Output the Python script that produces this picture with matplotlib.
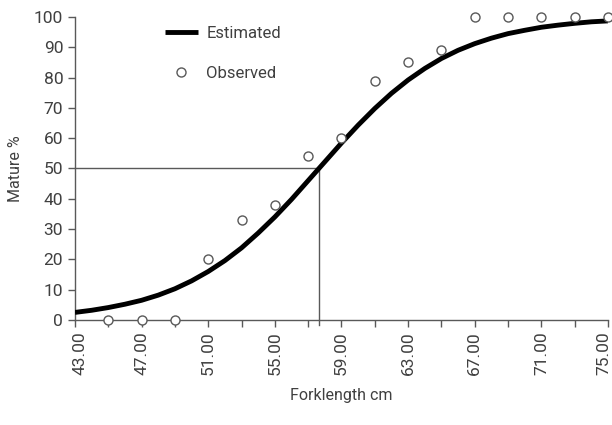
import matplotlib
matplotlib.use("Agg")
import matplotlib.pyplot as plt
import matplotlib.transforms as mtransforms

plt.rcParams['font.family'] = ['Roboto', 'DejaVu Sans']

# observed maturity (%) by fork length
obs_len = [45, 47, 49, 51, 53, 55, 57, 59, 61, 63, 65, 67, 69, 71, 73, 75]
obs_pct = [0, 0, 0, 20, 33, 38, 54, 60, 79, 85, 89, 100, 100, 100, 100, 100]

# estimated curve, every 1 cm
est_len = list(range(43, 76))
est_pct = [2.5, 3.2, 4.1, 5.2, 6.5, 8.2, 10.3, 12.9, 16.0, 19.6, 23.8,
           28.7, 34.0, 39.8, 46.0, 52.2, 58.4, 64.3, 69.8, 74.8, 79.2,
           83.0, 86.3, 89.0, 91.2, 93.0, 94.5, 95.6, 96.6, 97.3, 97.9,
           98.4, 98.7]

l50 = 57.65
tick_pos = list(range(43, 76, 2))
tick_lab = ["%.2f" % t if (t - 43) % 4 == 0 else "" for t in tick_pos]

grey = '#595959'
txt = '#404040'

fig = plt.figure(figsize=(6.12, 4.25), dpi=100)
ax = fig.add_axes([0.1225, 0.2471, 0.871, 0.713])

ax.plot([43, l50], [50, 50], color=grey, lw=1, clip_on=False)
ax.plot([l50, l50], [-1.8, 50], color=grey, lw=1, clip_on=False)

ax.plot(est_len, est_pct, color='black', lw=3.5, label='Estimated',
        solid_capstyle='butt', zorder=3)
ax.plot(obs_len, obs_pct, 'o', ms=6.5, mfc='white', mec=grey, mew=1,
        label='Observed', clip_on=False, zorder=4)

ax.set_xlim(43, 75)
ax.set_ylim(0, 100)
ax.set_yticks(range(0, 101, 10))
ax.set_xticks(tick_pos)
ax.set_xticklabels(tick_lab, rotation=90)

for s in ['top', 'right']:
    ax.spines[s].set_visible(False)
for s in ['left', 'bottom']:
    ax.spines[s].set_color(grey)
    ax.spines[s].set_linewidth(1)
ax.tick_params(axis='both', colors=grey, labelcolor=txt, labelsize=12.5,
               length=5, width=1)

# edge labels nudged inward like the original
xl = ax.get_xticklabels()
xl[0].set_transform(xl[0].get_transform() +
                    mtransforms.ScaledTranslation(5/100, 0, fig.dpi_scale_trans))
xl[-1].set_transform(xl[-1].get_transform() +
                     mtransforms.ScaledTranslation(-4/100, 0, fig.dpi_scale_trans))

ax.set_ylabel('Mature %', fontsize=11.5, color=txt, labelpad=8)
ax.set_xlabel('Forklength cm', fontsize=11.5, color=txt, labelpad=9)

leg = ax.legend(loc='upper left', bbox_to_anchor=(0.14, 1.02), frameon=False,
                fontsize=12, handlelength=2.0, labelspacing=1.5,
                handletextpad=0.5, labelcolor=txt)

fig.savefig('out.png', dpi=100)
